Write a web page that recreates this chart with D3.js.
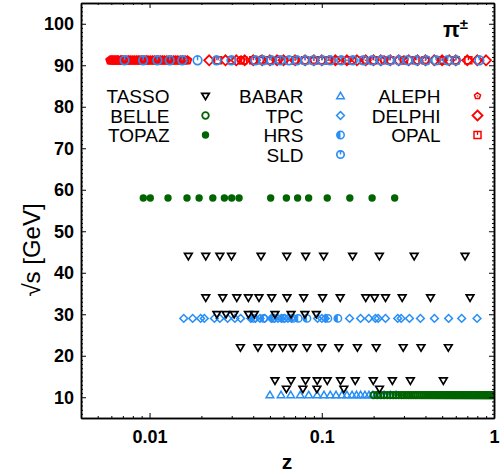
<!DOCTYPE html>
<head>
    <meta charset="utf-8">
    <style>
        body {
            margin: 0;
            background: #fff;
            font-family: 'Liberation Sans', Arial, sans-serif;
        }

        svg {
            position: absolute;
            top: 0;
            left: 0;
        }

        .axis path,
        .axis line {
            stroke: #000;
        }

        .axis path {
            stroke-width: 1.5px;
        }

        .axis text {
            font-family: 'Liberation Sans', Arial, sans-serif;
            font-size: 18px;
            font-weight: bold;
            fill: #000;
        }

        .key text {
            font-size: 19px;
            text-anchor: end;
            fill: #000;
        }
    </style>
    <script src="https://d3js.org/d3.v7.min.js"></script>
</head>

<body>
    <script>
        ////////////// Data (z values per experiment and energy) //////////////

        const tasso44 = [0.0168, 0.0212, 0.0256, 0.0299, 0.0444, 0.0626, 0.0806, 0.1025, 0.151, 0.216, 0.344, 0.679]
        const tasso34 = [0.0212, 0.0266, 0.0321, 0.0375, 0.0432, 0.0512, 0.0628, 0.0785, 0.1011, 0.128, 0.180, 0.2025, 0.2345, 0.293, 0.428, 0.726]
        const tasso30 = [0.0246, 0.0278, 0.031, 0.0375, 0.0406, 0.0535, 0.0663, 0.0798, 0.093]
        const tasso22 = [0.0337, 0.0426, 0.0512, 0.0593, 0.068, 0.082, 0.100, 0.1257, 0.161, 0.207, 0.297, 0.377, 0.543]
        const tasso14 = [0.0535, 0.0663, 0.0805, 0.0941, 0.1076, 0.1285, 0.1564, 0.199, 0.257, 0.327, 0.508]
        const tasso12 = [0.0623, 0.0777, 0.0937, 0.1343, 0.2163]

        const belle = [0.20, 0.21, 0.22, 0.23, 0.24, 0.25, 0.26, 0.27, 0.28, 0.29,
            0.30, 0.31, 0.32, 0.33, 0.34, 0.35, 0.36, 0.37, 0.38, 0.39,
            0.40, 0.41, 0.42, 0.43, 0.44, 0.45, 0.46, 0.47, 0.48, 0.49,
            0.50, 0.51, 0.52, 0.53, 0.54, 0.55, 0.56, 0.57, 0.58, 0.59,
            0.60, 0.61, 0.62, 0.63, 0.64, 0.65, 0.66, 0.67, 0.68, 0.69,
            0.70, 0.71, 0.72, 0.73, 0.74, 0.75, 0.76, 0.77, 0.78, 0.79,
            0.80, 0.81, 0.82, 0.83, 0.84, 0.85, 0.86, 0.87, 0.88, 0.89,
            0.90, 0.91, 0.92, 0.93, 0.94, 0.95, 0.96, 0.97, 0.98]

        const topaz = [0.0092, 0.0101, 0.0128, 0.0165, 0.0194, 0.0233, 0.0272, 0.030, 0.0331, 0.0505, 0.0623, 0.0724, 0.0839, 0.1076, 0.1455, 0.196, 0.265]

        const babar = [0.050, 0.058, 0.066, 0.075, 0.084, 0.094, 0.103, 0.112, 0.121, 0.131, 0.140, 0.150, 0.159, 0.168, 0.178, 0.188, 0.198, 0.21, 0.23, 0.25, 0.27]

        const tpc = [0.0158, 0.0178, 0.0198, 0.0208, 0.0238, 0.0256, 0.0284, 0.0313, 0.0338, 0.0387, 0.0412, 0.0438, 0.0466, 0.051, 0.0533, 0.0557, 0.0582, 0.0609, 0.0636, 0.0666,
            0.0945, 0.1001, 0.1048, 0.145, 0.168, 0.1875, 0.205, 0.2126, 0.2344, 0.276, 0.289, 0.323, 0.374, 0.451, 0.545, 0.649, 0.797]

        const hrs = [0.040, 0.046, 0.052, 0.060, 0.068, 0.073, 0.082, 0.1085, 0.124]

        const sld = [0.00716, 0.00918, 0.0111, 0.0131, 0.0155, 0.019, 0.0245, 0.0299, 0.0412, 0.0456, 0.051, 0.0575, 0.0645, 0.0717, 0.0802, 0.0896,
            0.1007, 0.112, 0.1297, 0.1515, 0.1747, 0.1963, 0.2213, 0.2472, 0.280, 0.3155, 0.356, 0.4035, 0.461, 0.538, 0.602, 0.822]

        const aleph = [0.0059, 0.0060, 0.0061, 0.0062, 0.0063, 0.0064, 0.0065, 0.0066, 0.0068, 0.0069, 0.0070, 0.0072, 0.0073, 0.0075,
            0.0076, 0.0078, 0.0080, 0.0082, 0.0084, 0.0086, 0.0088, 0.0090, 0.0092, 0.0094, 0.0096, 0.0098, 0.0101, 0.0104,
            0.0107, 0.0110, 0.0113, 0.0116, 0.0119, 0.0122, 0.0126, 0.0130, 0.0134, 0.0138, 0.0142, 0.0146, 0.0151, 0.0156, 0.0161, 0.0166,
            0.034, 0.044, 0.056, 0.07, 0.09, 0.11, 0.14, 0.18, 0.23, 0.3, 0.4, 0.5]

        const delphi = [0.0222, 0.0276, 0.0319, 0.0357, 0.040, 0.045, 0.050, 0.055, 0.060, 0.070, 0.080, 0.090, 0.100, 0.120, 0.140, 0.160,
            0.180, 0.200, 0.220, 0.250, 0.280, 0.320, 0.360, 0.400, 0.450, 0.500, 0.550, 0.600, 0.700, 0.800, 0.899]

        const opal = [0.025, 0.030, 0.035, 0.040, 0.050, 0.060, 0.070, 0.080, 0.090, 0.100, 0.110, 0.125, 0.150, 0.175, 0.200, 0.250, 0.300, 0.350, 0.400, 0.500, 0.600, 0.710]

        const xTickLabels = [0.01, 0.1, 1]
        const yTickLabels = [10, 20, 30, 40, 50, 60, 70, 80, 90, 100]

        //Legend entries, column by column
        const keyNames = [["TASSO", "BELLE", "TOPAZ"], ["BABAR", "TPC", "HRS", "SLD"], ["ALEPH", "DELPHI", "OPAL"]]

        ////////////// Styles //////////////

        const BLUE = "#2a8ff5", RED = "#ff0000", GREEN = "#006400"

        const style = {
            TASSO: { sym: "tridown", color: "#000" },
            BELLE: { sym: "circle", color: GREEN },
            TOPAZ: { sym: "dot", color: GREEN },
            BABAR: { sym: "triup", color: BLUE },
            TPC: { sym: "diamond", color: BLUE },
            HRS: { sym: "halfcircle", color: BLUE },
            SLD: { sym: "tickcircle", color: BLUE },
            ALEPH: { sym: "pentagon", color: RED },
            DELPHI: { sym: "bigdiamond", color: RED },
            OPAL: { sym: "square", color: RED }
        }

        //Series in drawing order
        const series = [
            { name: "BABAR", s: 10.54, z: babar },
            { name: "BELLE", s: 10.52, z: belle },
            { name: "TPC", s: 29, z: tpc },
            { name: "HRS", s: 29, z: hrs },
            { name: "TASSO", s: 44, z: tasso44 },
            { name: "TASSO", s: 34, z: tasso34 },
            { name: "TASSO", s: 30, z: tasso30 },
            { name: "TASSO", s: 22, z: tasso22 },
            { name: "TASSO", s: 14, z: tasso14 },
            { name: "TASSO", s: 12, z: tasso12 },
            { name: "TOPAZ", s: 58, z: topaz },
            { name: "ALEPH", s: 91.2, z: aleph },
            { name: "DELPHI", s: 91.2, z: delphi },
            { name: "OPAL", s: 91.2, z: opal },
            { name: "SLD", s: 91.2, z: sld }
        ]

        ////////////// SVG //////////////

        let margin = { top: 3, right: 6, bottom: 58, left: 81 }
        let width = 500 - margin.left - margin.right,
            height = 476 - margin.top - margin.bottom

        let svg = d3.select("body").append("svg")
            .attr("width", 500)
            .attr("height", 476)
            .append("g")
            .attr("transform", "translate(" + margin.left + "," + margin.top + ")")

        svg.append("clipPath").attr("id", "clip")
            .append("rect").attr("width", width).attr("height", height)

        ////////////// Scales //////////////

        const x_scale = d3.scaleLog().domain([0.004, 1]).range([0, width])
        const y_scale = d3.scaleLinear().domain([5, 105]).range([height, 0])

        ////////////// Symbols //////////////

        function drawSymbol(g, sym, color, x, y, inKey) {
            let sw = 1.5
            if (sym === "tridown") {
                g.append("path").attr("d", `M${x - 3.8},${y - 2.7}L${x + 3.8},${y - 2.7}L${x},${y + 3.7}Z`)
                    .attr("fill", "none").attr("stroke", color).attr("stroke-width", 1.7)
            } else if (sym === "triup") {
                g.append("path").attr("d", `M${x - 3.8},${y + 2.7}L${x + 3.8},${y + 2.7}L${x},${y - 3.7}Z`)
                    .attr("fill", "none").attr("stroke", color).attr("stroke-width", sw)
            } else if (sym === "circle") {
                g.append("circle").attr("cx", x).attr("cy", y).attr("r", 3.3)
                    .attr("fill", "none").attr("stroke", color).attr("stroke-width", 1.8)
            } else if (sym === "dot") {
                g.append("circle").attr("cx", x).attr("cy", y).attr("r", 3.7).attr("fill", color)
            } else if (sym === "diamond") {
                g.append("path").attr("d", `M${x},${y - 3.9}L${x + 3.9},${y}L${x},${y + 3.9}L${x - 3.9},${y}Z`)
                    .attr("fill", "none").attr("stroke", color).attr("stroke-width", sw)
            } else if (sym === "bigdiamond") {
                g.append("path").attr("d", `M${x},${y - 5}L${x + 5},${y}L${x},${y + 5}L${x - 5},${y}Z`)
                    .attr("fill", "none").attr("stroke", color).attr("stroke-width", 1.8)
            } else if (sym === "halfcircle") {
                g.append("circle").attr("cx", x).attr("cy", y).attr("r", 3.7)
                    .attr("fill", "none").attr("stroke", color).attr("stroke-width", sw)
                g.append("path").attr("d", `M${x},${y}L${x},${y - 3.7}A3.7,3.7 0 0 0 ${x - 3.7},${y}A3.7,3.7 0 0 0 ${x},${y + 3.7}Z`)
                    .attr("fill", color)
            } else if (sym === "tickcircle") {
                let r = inKey ? 3.7 : 4.3
                g.append("circle").attr("cx", x).attr("cy", y).attr("r", r)
                    .attr("fill", "none").attr("stroke", color).attr("stroke-width", 1.7)
                g.append("line").attr("x1", x).attr("x2", x).attr("y1", y - r).attr("y2", y)
                    .attr("stroke", color).attr("stroke-width", 1.5)
            } else if (sym === "pentagon") {
                let r = inKey ? 3.2 : 4
                let pts = d3.range(5).map(i => {
                    let a = -Math.PI / 2 + i * 2 * Math.PI / 5
                    return [x + r * Math.cos(a), y + r * Math.sin(a)]
                })
                g.append("path").attr("d", "M" + pts.join("L") + "Z")
                    .attr("fill", "none").attr("stroke", color).attr("stroke-width", inKey ? sw : 2)
                g.append("circle").attr("cx", x).attr("cy", y).attr("r", 0.8).attr("fill", color)
            } else if (sym === "square") {
                g.append("rect").attr("x", x - 3.5).attr("y", y - 3.5).attr("width", 7).attr("height", 7)
                    .attr("fill", "none").attr("stroke", color).attr("stroke-width", sw)
                g.append("line").attr("x1", x).attr("x2", x).attr("y1", y - 3.5).attr("y2", y)
                    .attr("stroke", color).attr("stroke-width", 1.3)
            }
        }

        ////////////// Points //////////////

        let pts = svg.append("g").attr("clip-path", "url(#clip)")

        series.forEach(d => {
            let st = style[d.name]
            d.z.forEach(z => drawSymbol(pts, st.sym, st.color, x_scale(z), y_scale(d.s), false))
        })

        ////////////// Axes //////////////

        const xMinor = x_scale.ticks().filter(v => xTickLabels.indexOf(v) < 0)
        const yMinor = d3.range(5, 106, 1).filter(v => yTickLabels.indexOf(v) < 0)

        function axisPair(axisFn, scale, major, minor, labels, transform) {
            let g = svg.append("g").attr("class", "axis").attr("transform", transform || null)
            g.call(axisFn(scale).tickValues(minor).tickSizeInner(-2).tickSizeOuter(0).tickFormat(""))
            let gm = svg.append("g").attr("class", "axis").attr("transform", transform || null)
            gm.call(axisFn(scale).tickValues(major).tickSizeInner(-5).tickSizeOuter(0)
                .tickPadding(labels ? 9 : 0)
                .tickFormat(labels ? (v => v) : ""))
            return gm
        }

        axisPair(d3.axisBottom, x_scale, xTickLabels, xMinor, true, "translate(0," + height + ")")
            .selectAll("text").attr("dy", "0.9em")
        axisPair(d3.axisTop, x_scale, xTickLabels, xMinor, false)
        axisPair(d3.axisLeft, y_scale, yTickLabels, yMinor, true)
            .selectAll("text").attr("x", -7)
        axisPair(d3.axisRight, y_scale, yTickLabels, yMinor, false, "translate(" + width + ",0)")

        ////////////// Titles //////////////

        svg.append("text")
            .attr("transform", "translate(" + (32 - margin.left) + "," + (250 - margin.top) + ") rotate(-90)")
            .attr("text-anchor", "middle")
            .attr("dy", "0.35em")
            .style("font-size", "24px")
            .text("\u221As [GeV]")

        svg.append("text")
            .attr("x", 287 - margin.left)
            .attr("y", 469 - margin.top)
            .attr("text-anchor", "middle")
            .style("font-size", "21px")
            .style("font-weight", "bold")
            .text("z")

        let pi = svg.append("text")
            .attr("x", 443 - margin.left)
            .attr("y", 37 - margin.top)
            .style("font-size", "22px")
            .style("font-weight", "bold")
            .text("\u03C0")
        pi.append("tspan").attr("dy", -8).style("font-size", "15px").text("\u00B1")

        ////////////// Key //////////////

        const keyTextX = [169.5, 303.5, 440.5],
            keySymX = [205.5, 340.5, 477.5],
            keyRowY = [96, 115.5, 135, 154.5]

        let key = svg.append("g").attr("class", "key")
            .attr("transform", "translate(" + -margin.left + "," + -margin.top + ")")

        keyNames.forEach((col, ci) => {
            col.forEach((name, ri) => {
                key.append("text")
                    .attr("x", keyTextX[ci])
                    .attr("y", keyRowY[ri] + 7)
                    .text(name)
                drawSymbol(key, style[name].sym, style[name].color, keySymX[ci], keyRowY[ri], true)
            })
        })
    </script>
</body>
